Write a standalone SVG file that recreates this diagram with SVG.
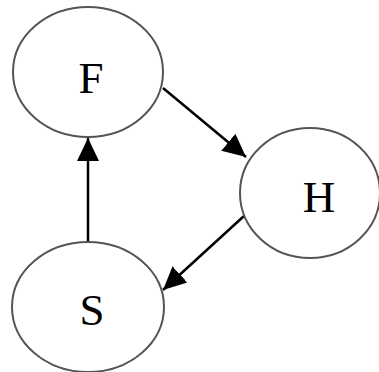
<svg xmlns="http://www.w3.org/2000/svg" width="379" height="372" viewBox="0 0 379 372">
  <style>
    .node ellipse { fill: none; stroke: #555555; stroke-width: 2; }
    .node text { font-family: "Liberation Serif", "Times New Roman", serif; font-size: 45px; fill: #000000; text-anchor: middle; }
    .edge { stroke: #000000; stroke-width: 2.5; fill: none; marker-end: url(#arrow); }
  </style>
  <defs>
    <marker id="arrow" markerUnits="userSpaceOnUse" markerWidth="24" markerHeight="24" viewBox="0 0 24 24" refX="23" refY="12" orient="auto">
      <path d="M0,1 L23,12 L0,23 Z" fill="#000000"/>
    </marker>
  </defs>
  <rect width="379" height="372" fill="#ffffff"/>
  <g id="connectors">
    <line class="edge" x1="163" y1="88" x2="246" y2="157"/>
    <line class="edge" x1="244" y1="216" x2="163" y2="290"/>
    <line class="edge" x1="88" y1="242" x2="88" y2="138"/>
  </g>
  <g id="node-F" class="node">
    <ellipse cx="88" cy="72" rx="75" ry="65"/>
    <text x="91" y="93">F</text>
  </g>
  <g id="node-H" class="node">
    <ellipse cx="310" cy="193" rx="70" ry="65"/>
    <text x="319" y="212">H</text>
  </g>
  <g id="node-S" class="node">
    <ellipse cx="88" cy="307" rx="76" ry="65"/>
    <text x="92" y="325">S</text>
  </g>
</svg>
